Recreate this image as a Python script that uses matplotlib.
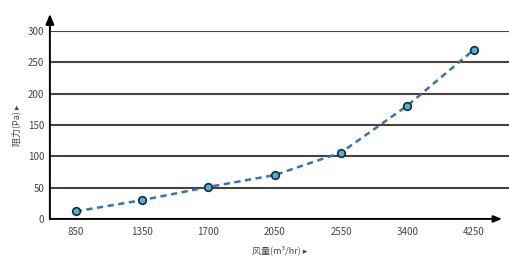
import matplotlib
matplotlib.use("Agg")
import matplotlib.pyplot as plt

plt.rcParams['font.family'] = ['Noto Sans CJK SC', 'DejaVu Sans']

# data
airflow = ["850", "1350", "1700", "2050", "2550", "3400", "4250"]
resistance = [12, 30, 51, 70, 106, 181, 270]
yticks = [0, 50, 100, 150, 200, 250, 300]

fig = plt.figure(figsize=(5.09, 2.60), dpi=100)
ax = fig.add_axes([0.098, 0.158, 0.902, 0.723])

xs = list(range(len(airflow)))
ax.set_xlim(-0.39, 6.53)
ax.set_ylim(0, 300)

for y in yticks[1:]:
    ax.axhline(y, color="#4a403c", lw=1.5, zorder=1)

ax.plot(xs, resistance, ls=(0, (2.5, 1.8)), color="#3f6fae", lw=1.8, zorder=2)
ax.plot(xs, resistance, ls="none", marker="o", ms=5.5, mfc="#4fb1d8",
        mec="#1d2a33", mew=1.2, zorder=3)

for s in ax.spines.values():
    s.set_visible(False)

# axes with arrows
ax.annotate("", xy=(0, 1.09), xytext=(0, 0), xycoords="axes fraction",
            arrowprops=dict(arrowstyle="-|>,head_width=0.25,head_length=0.6",
                            color="black", lw=1.4, shrinkA=0, shrinkB=0))
ax.annotate("", xy=(0.985, 0), xytext=(0, 0), xycoords="axes fraction",
            arrowprops=dict(arrowstyle="-|>,head_width=0.2,head_length=0.5",
                            color="black", lw=1.4, shrinkA=0, shrinkB=0))

ax.set_xticks(xs)
ax.set_xticklabels(airflow)
ax.set_yticks(yticks)
ax.tick_params(length=0, labelsize=7, colors="#444444", pad=6)
ax.tick_params(axis="y", pad=4)

ax.set_xlabel("风量(m³/hr) ▸", fontsize=6.5, color="#444444", labelpad=6)
ax.set_ylabel("阻力(Pa) ▸", fontsize=6.5, color="#444444", labelpad=5)

fig.savefig("out.png", dpi=100)
